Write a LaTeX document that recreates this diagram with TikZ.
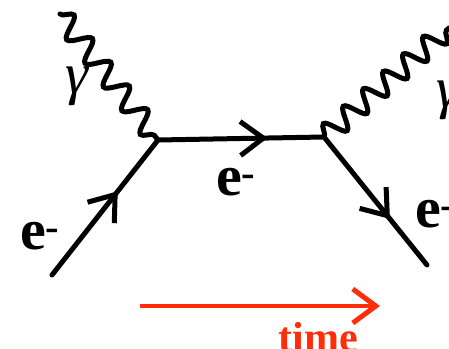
\documentclass[tikz,border=0pt]{standalone}
\usepackage{fontspec}
\setmainfont{Liberation Serif}
\usetikzlibrary{arrows.meta,decorations.pathmorphing,decorations.markings}
\definecolor{timered}{RGB}{255,45,10}

\begin{document}
\begin{tikzpicture}[
    x=1pt, y=1pt,
    >={Straight Barb[length=23pt,width=34pt,line width=5pt]},
    fermion/.style={draw=black, line width=5pt, line cap=round,
      postaction={decorate, decoration={markings,
        mark=at position #1 with {\arrow{>}}}}},
    fermion/.default=0.62,
    photon/.style={draw=black, line width=5pt, line cap=round,
      decorate, decoration={snake, amplitude=10.5pt, segment length=#1}},
    photon/.default=30pt,
    lbl/.style={font=\fontsize{58}{60}\selectfont\bfseries, inner sep=0pt},
    glbl/.style={font=\fontsize{58}{60}\selectfont\itshape, inner sep=0pt},
  ]
  \useasboundingbox (0,0) rectangle (449,348);

  %% ---------------- vertices and free ends ----------------
  \coordinate (v1) at (158,208);
  \coordinate (v2) at (324,211);
  \coordinate (ein) at (52,73);
  \coordinate (eout) at (427,83);
  \coordinate (gin) at (60,334);
  \coordinate (gout) at (449,320);

  %% ---------------- photons ----------------
  \draw[photon] (gin) -- (v1);
  \draw[photon=26.5pt] (v2) -- (gout);
  \node[glbl] (gamin) at (77,262) {γ};
  \node[glbl, anchor=west] (gamout) at (436,248) {γ};

  %% ---------------- electron lines ----------------
  \draw[fermion] (ein) -- (v1);
  \draw[fermion=0.66] (v1) -- (v2);
  \draw[fermion=0.64] (v2) -- (eout);
  \node[lbl] (ein-l) at (40,112) {e\textsuperscript{-}};
  \node[lbl] (emid-l) at (236,166) {e\textsuperscript{-}};
  \node[lbl, anchor=west] (eout-l) at (415,134) {e\textsuperscript{-}};

  %% ---------------- time axis ----------------
  \coordinate (t0) at (140,42);
  \coordinate (t1) at (380,42);
  \draw[timered, line width=4.6pt, ->] (t0) -- (t1);
  \node[font=\fontsize{42}{44}\selectfont\bfseries, text=timered, inner sep=0pt] (time) at (318,11) {time};

\end{tikzpicture}
\end{document}
